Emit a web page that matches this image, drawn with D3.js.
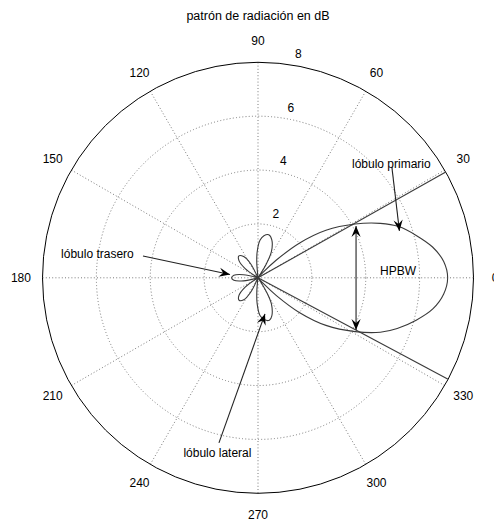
<!DOCTYPE html>
<html>
<head>
<meta charset="utf-8">
<script src="https://cdn.jsdelivr.net/npm/d3@7"></script>
<style>
  html, body { margin: 0; padding: 0; background: #fff; }
  svg { display: block; }
  text { font-family: "Liberation Sans", Arial, sans-serif; fill: #000; }
</style>
</head>
<body>
<div id="chart"></div>
<script>
// ---- data ----------------------------------------------------------------
const chartTitle = "patrón de radiación en dB";
const angleTicks = [0, 30, 60, 90, 120, 150, 180, 210, 240, 270, 300, 330];
const radialTicks = [2, 4, 6, 8];
const radialMax = 8;

// radiation pattern: angle (degrees) and level (dB above the plot floor)
const patternAngles = [
  0, 5, 10, 15, 20, 24, 29, 35, 40, 44, 47, 49,
  56, 59, 63, 70, 76, 82, 87, 92, 95, 98,
  113, 118, 124, 131, 138, 144, 149,
  163, 168, 174, 180, 186, 192, 197,
  211, 216, 223, 230, 237, 243, 248,
  262, 265, 268, 273, 279, 285, 290, 297, 301, 304,
  311, 313, 316, 320, 325, 331, 336, 340, 345, 350, 355
];
const patternLevels = [
  7.04, 6.92, 6.58, 6.08, 5.56, 4.97, 4.12, 3.08, 2.0, 0.95, 0.3, 0,
  0, 0.6, 1.1, 1.5, 1.65, 1.58, 1.4, 0.95, 0.5, 0,
  0, 0.6, 0.95, 1.08, 0.95, 0.6, 0,
  0, 0.55, 0.9, 0.98, 0.9, 0.55, 0,
  0, 0.6, 0.97, 1.09, 0.97, 0.6, 0,
  0, 0.5, 0.95, 1.4, 1.58, 1.63, 1.5, 1.1, 0.6, 0,
  0, 0.3, 0.95, 2.0, 3.08, 4.12, 4.97, 5.5, 6.08, 6.6, 6.92
];

// half-power beamwidth edges (degrees)
const hpbwAngles = [29.4, -28.1];

// labelled arrows, positions in the plot's x/y units
const arrowLabels = ["lóbulo primario", "lóbulo trasero", "lóbulo lateral", "HPBW"];
const arrowTextX = [3.49, -7.31, -2.77, 4.53];
const arrowTextY = [4.22, 0.88, -6.49, 0.26];
const arrowFrom = [[4.97, 4.11], [-4.27, 0.81], [-1.45, -6.13], [3.64, 1.92]];
const arrowTo = [[5.25, 1.74], [-1.04, 0.12], [0.26, -1.34], [3.64, -1.94]];
const arrowDouble = [false, false, false, true];

// ---- layout ----------------------------------------------------------------
const width = 494, height = 525;
const cx = 258, cy = 277.8, outerR = 215.5;

const svg = d3.select("#chart").append("svg")
  .attr("width", width).attr("height", height);

const r = d3.scaleLinear().domain([0, radialMax]).range([0, outerR]);
const xs = d3.scaleLinear().domain([-radialMax, radialMax]).range([cx - outerR, cx + outerR]);
const ys = d3.scaleLinear().domain([-radialMax, radialMax]).range([cy + outerR, cy - outerR]);
const rad = d => d * Math.PI / 180;

const g = svg.append("g");

// grid: dotted rings and spokes
const gridColor = "#7a7a7a";
g.selectAll("circle.ring").data(radialTicks.filter(t => t < radialMax)).enter()
  .append("circle")
  .attr("cx", cx).attr("cy", cy).attr("r", d => r(d))
  .attr("fill", "none").attr("stroke", gridColor).attr("stroke-width", 1)
  .attr("stroke-dasharray", "1,2.2");

g.selectAll("line.spoke").data(angleTicks).enter()
  .append("line")
  .attr("x1", cx).attr("y1", cy)
  .attr("x2", d => xs(radialMax * Math.cos(rad(d))))
  .attr("y2", d => ys(radialMax * Math.sin(rad(d))))
  .attr("stroke", gridColor).attr("stroke-width", 1)
  .attr("stroke-dasharray", "1,2.2");

// outer boundary
g.append("circle")
  .attr("cx", cx).attr("cy", cy).attr("r", r(radialMax))
  .attr("fill", "none").attr("stroke", "#000").attr("stroke-width", 1);

// angle labels
g.selectAll("text.ang").data(angleTicks).enter()
  .append("text")
  .attr("x", d => xs(radialMax * 1.1 * Math.cos(rad(d))))
  .attr("y", d => ys(radialMax * 1.1 * Math.sin(rad(d))))
  .attr("text-anchor", "middle").attr("dominant-baseline", "central")
  .style("font-size", "12px")
  .text(d => d);

// radial labels along 82 degrees
const c82 = Math.cos(rad(82)), s82 = Math.sin(rad(82));
g.selectAll("text.rad").data(radialTicks).enter()
  .append("text")
  .attr("x", d => xs((d + 0.1) * c82) + 6.7)
  .attr("y", d => ys((d + 0.1) * s82) - 3.5)
  .style("font-size", "12px")
  .text(d => d);

// title
svg.append("text")
  .attr("x", cx).attr("y", 16)
  .attr("text-anchor", "middle").attr("dominant-baseline", "central")
  .style("font-size", "12.5px")
  .text(chartTitle);

// radiation pattern
const patternPts = patternAngles.map((a, i) => [rad(90 - a), r(patternLevels[i])]);
const radial = d3.lineRadial()
  .angle(d => d[0]).radius(d => d[1])
  .curve(d3.curveCatmullRomClosed.alpha(0.5));
g.append("path")
  .attr("transform", `translate(${cx},${cy})`)
  .attr("d", radial(patternPts))
  .attr("fill", "none").attr("stroke", "#3a3a3a").attr("stroke-width", 1.1);

// HPBW edge lines
g.selectAll("line.hpbw").data(hpbwAngles).enter()
  .append("line")
  .attr("x1", cx).attr("y1", cy)
  .attr("x2", d => xs(radialMax * Math.cos(rad(d))))
  .attr("y2", d => ys(radialMax * Math.sin(rad(d))))
  .attr("stroke", "#3a3a3a").attr("stroke-width", 1.1);

// arrows with labels
function arrowHead(x, y, ang) {
  const L = 11, W = 4.6, N = 7;
  const pts = [[0, 0], [-L, -W], [-N, 0], [-L, W]].map(([px, py]) => [
    x + px * Math.cos(ang) - py * Math.sin(ang),
    y + px * Math.sin(ang) + py * Math.cos(ang)
  ]);
  return "M" + pts.map(p => p.join(",")).join("L") + "Z";
}
arrowLabels.forEach((label, i) => {
  const x1 = xs(arrowFrom[i][0]), y1 = ys(arrowFrom[i][1]);
  const x2 = xs(arrowTo[i][0]), y2 = ys(arrowTo[i][1]);
  const ang = Math.atan2(y2 - y1, x2 - x1);
  g.append("line")
    .attr("x1", x1).attr("y1", y1).attr("x2", x2).attr("y2", y2)
    .attr("stroke", "#222").attr("stroke-width", 1.1);
  g.append("path").attr("d", arrowHead(x2, y2, ang)).attr("fill", "#000");
  if (arrowDouble[i]) {
    g.append("path").attr("d", arrowHead(x1, y1, ang + Math.PI)).attr("fill", "#000");
  }
  g.append("text")
    .attr("x", xs(arrowTextX[i])).attr("y", ys(arrowTextY[i]))
    .attr("dominant-baseline", "central")
    .style("font-size", "12px")
    .text(label);
});
</script>
</body>
</html>
